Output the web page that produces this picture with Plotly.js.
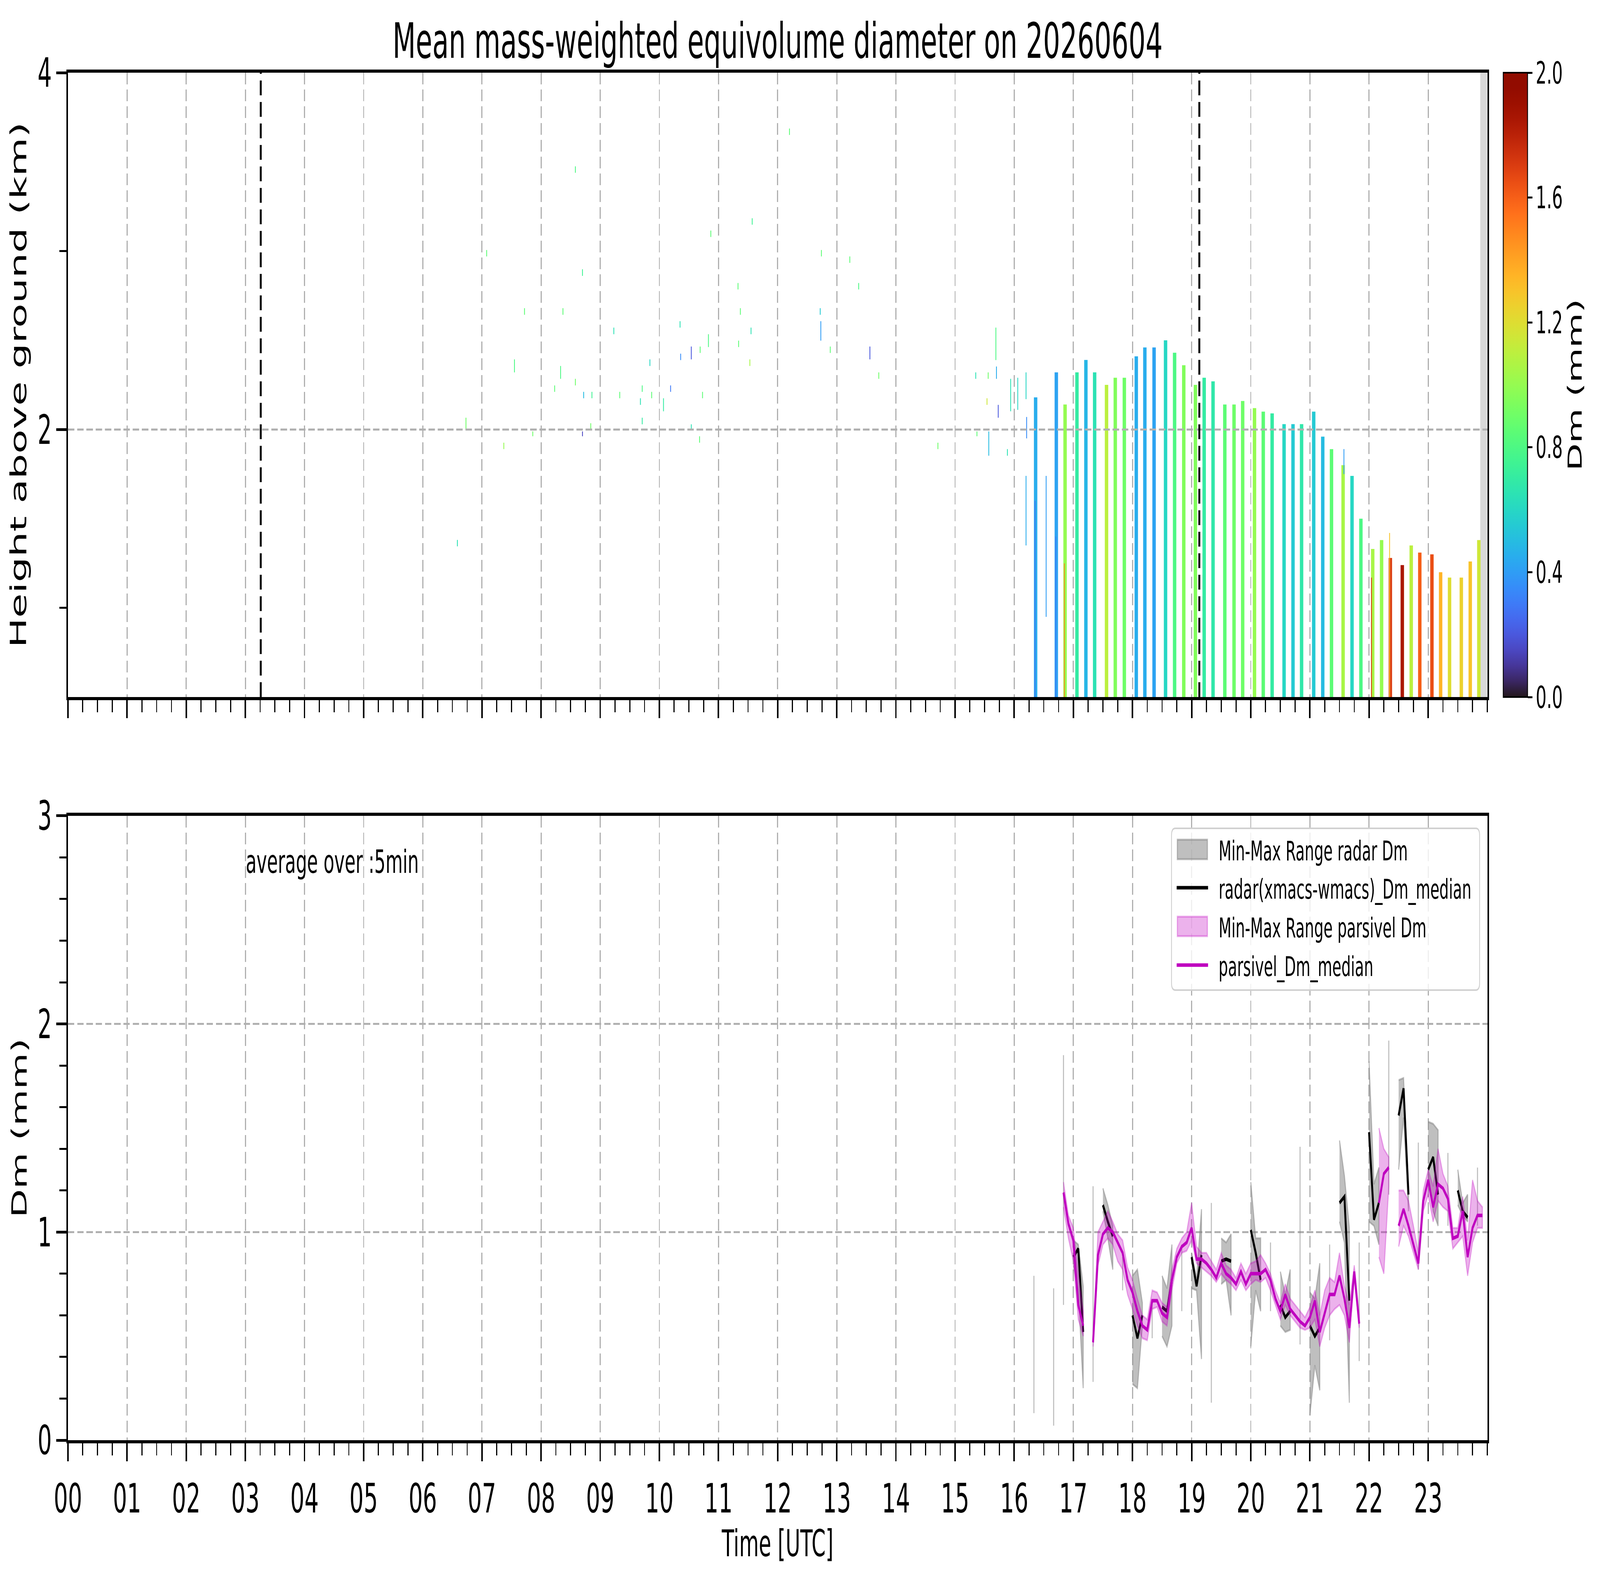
<!DOCTYPE html>
<html>
<head>
<meta charset="utf-8">
<script src="https://cdn.plot.ly/plotly-3.0.1.min.js"></script>
<style>html,body{margin:0;padding:0;background:#fff;overflow:hidden}#chart{transform-origin:0 0}</style>
</head>
<body>
<div id="chart" style="width:7442px;height:4031px"></div>
<script>
// ---- data ----
const hourLabels = ['00','01','02','03','04','05','06','07','08','09','10','11',
  '12','13','14','15','16','17','18','19','20','21','22','23'];

// radar columns (top panel): centre time [h], top height [km], Dm [mm]
const colTime = [16.362, 16.712, 16.860, 17.061, 17.212, 17.360, 17.561, 17.709, 17.862,
  18.064, 18.209, 18.365, 18.559, 18.712, 18.867, 19.064, 19.212, 19.362, 19.561, 19.717, 19.863,
  20.063, 20.211, 20.361, 20.563, 20.714, 20.859, 21.064, 21.217, 21.365, 21.561, 21.712, 21.862,
  22.062, 22.212, 22.360, 22.562, 22.713, 22.858, 23.063, 23.210, 23.361, 23.560, 23.711, 23.856];
const colTop = [2.18, 2.32, 2.14, 2.32, 2.39, 2.32, 2.25, 2.29, 2.29,
  2.41, 2.46, 2.46, 2.50, 2.43, 2.36, 2.25, 2.29, 2.27, 2.14, 2.14, 2.16,
  2.12, 2.10, 2.09, 2.03, 2.03, 2.03, 2.10, 1.96, 1.89, 1.80, 1.74, 1.50,
  1.33, 1.38, 1.28, 1.24, 1.35, 1.31, 1.30, 1.20, 1.17, 1.17, 1.26, 1.38];
const colDm = [0.45, 0.42, 1.0, 0.7, 0.48, 0.65, 1.1, 0.95, 0.9,
  0.45, 0.45, 0.42, 0.6, 0.8, 0.95, 0.95, 0.7, 0.68, 0.85, 0.9, 0.9,
  1.0, 0.85, 0.7, 0.6, 0.55, 0.68, 0.55, 0.5, 0.85, 1.05, 0.6, 0.8,
  1.05, 1.0, 1.7, 1.85, 1.1, 1.6, 1.65, 1.35, 1.2, 1.25, 1.3, 1.15];

// small isolated cells and streaks (top panel)
const cellTime = [6.585, 6.73, 7.08, 7.37, 7.55, 7.72, 7.86, 8.23, 8.33, 8.37, 8.58, 8.58, 8.70, 8.70,
  8.72, 8.84, 8.86, 9.23, 9.33, 9.68, 9.71, 9.71, 9.84, 9.87, 10.07, 10.19, 10.35, 10.36, 10.54,
  10.54, 10.68, 10.69, 10.73, 10.83, 10.87, 11.33, 11.34, 11.37, 11.53, 11.55, 11.57, 12.20, 12.72,
  12.73, 12.74, 12.89, 13.22, 13.37, 13.56, 13.71, 14.71, 15.35, 15.37, 15.54, 15.56, 15.57, 15.69,
  15.70, 15.73, 15.885, 15.94, 16.06, 16.20, 16.21, 16.20, 16.54, 16.352, 16.702, 16.848, 22.041,
  22.347, 21.575];
const cellLow = [1.345, 2.00, 2.97, 1.89, 2.32, 2.643, 1.962, 2.211, 2.284, 2.643, 3.439, 2.247, 2.861, 1.962,
  2.175, 2.00, 2.175, 2.534, 2.175, 2.138, 2.211, 2.029, 2.356, 2.175, 2.102, 2.211, 2.571, 2.389, 2.393,
  2.00, 1.926, 2.429, 2.175, 2.462, 3.079, 2.785, 2.462, 2.643, 2.356, 2.534, 3.148, 3.651, 2.643,
  2.498, 2.97, 2.429, 2.934, 2.785, 2.393, 2.284, 1.89, 2.284, 1.962, 2.138, 2.284, 1.853, 2.389,
  2.284, 2.066, 1.853, 2.102, 2.11, 2.17, 1.95, 1.35, 0.95, 0.5, 0.5, 0.5, 0.5,
  0.5, 1.75];
const cellHigh = [1.381, 2.066, 3.006, 1.926, 2.393, 2.68, 1.989, 2.247, 2.356, 2.68, 3.475, 2.284, 2.898, 1.989,
  2.211, 2.035, 2.211, 2.571, 2.211, 2.175, 2.247, 2.066, 2.393, 2.211, 2.175, 2.247, 2.607, 2.425, 2.465,
  2.029, 1.962, 2.465, 2.211, 2.534, 3.115, 2.821, 2.498, 2.68, 2.393, 2.571, 3.184, 3.687, 2.68,
  2.607, 3.006, 2.465, 2.97, 2.821, 2.465, 2.32, 1.926, 2.32, 1.989, 2.175, 2.32, 1.989, 2.571,
  2.353, 2.138, 1.89, 2.284, 2.29, 2.32, 2.07, 1.74, 1.74, 1.6, 1.4, 1.25, 1.17,
  1.42, 1.89];
const cellDm = [0.65, 0.9, 0.85, 1.0, 0.8, 0.85, 0.9, 0.85, 0.8, 0.85, 0.8, 0.9, 0.75, 0.15,
  0.5, 0.9, 0.75, 0.65, 0.85, 0.65, 0.8, 0.7, 0.6, 0.85, 0.7, 0.3, 0.65, 0.35, 0.2,
  0.65, 0.85, 0.85, 0.85, 0.8, 0.85, 0.85, 0.85, 0.85, 1.05, 0.65, 0.75, 0.85, 0.55,
  0.4, 0.85, 0.85, 0.85, 0.8, 0.2, 0.9, 0.9, 0.65, 0.85, 1.15, 0.9, 0.5, 0.8,
  0.45, 0.2, 0.65, 0.65, 0.6, 0.6, 0.35, 0.45, 0.4, 0.28, 0.3, 1.5, 1.7,
  1.3, 0.4];

const markLines = [3.26, 19.13];   // black dashed markers [h]

// bottom panel: radar Dm (5-min)
const radarTime = ['16:20','16:40','16:50',
  '17:00','17:05','17:10','17:20','17:30','17:35','17:40','17:50',
  '18:00','18:05','18:10','18:20','18:30','18:35','18:40','18:50',
  '19:00','19:05','19:10','19:20','19:30','19:35','19:40',
  '20:00','20:05','20:10','20:20','20:30','20:35','20:40','20:50',
  '21:00','21:05','21:10','21:20','21:30','21:35','21:40','21:50',
  '22:00','22:05','22:10','22:20','22:30','22:35','22:40','22:50',
  '23:00','23:05','23:10','23:20','23:30','23:35','23:40','23:50'];
const radarMed = [0.45, 0.40, 1.20,
  0.88, 0.92, 0.52, 0.75, 1.13, 1.05, 0.98, 0.80,
  0.60, 0.49, 0.60, 0.57, 0.64, 0.62, 0.77, 0.80,
  0.88, 0.74, 0.89, 0.70, 0.86, 0.87, 0.86,
  1.01, 0.90, 0.77, 0.78, 0.65, 0.59, 0.62, 0.90,
  0.55, 0.50, 0.54, 0.70, 1.14, 1.17, 0.67, 0.70,
  1.48, 1.06, 1.14, 1.50, 1.56, 1.69, 1.18, 1.10,
  1.30, 1.36, 1.18, 1.20, 1.20, 1.10, 1.07, 1.15];
const radarMin = [0.13, 0.07, 0.65,
  0.84, 0.72, 0.25, 0.28, 1.10, 0.97, 0.82, 0.72,
  0.27, 0.25, 0.55, 0.49, 0.50, 0.45, 0.55, 0.62,
  0.73, 0.72, 0.39, 0.18, 0.75, 0.77, 0.60,
  0.45, 0.72, 0.62, 0.62, 0.55, 0.52, 0.53, 0.46,
  0.12, 0.36, 0.24, 0.48, 1.05, 0.95, 0.18, 0.38,
  1.05, 1.03, 0.94, 1.18, 1.30, 1.55, 1.10, 0.82,
  1.28, 1.10, 1.03, 1.03, 1.13, 1.08, 1.05, 1.03];
const radarMax = [0.79, 0.73, 1.85,
  0.96, 0.94, 0.74, 1.22, 1.21, 1.13, 1.03, 0.88,
  0.79, 0.82, 0.66, 0.65, 0.79, 0.73, 0.94, 0.94,
  0.90, 0.78, 1.11, 1.14, 0.97, 0.95, 0.99,
  1.24, 0.97, 0.97, 0.95, 0.81, 0.70, 0.82, 1.41,
  0.71, 0.68, 0.85, 0.94, 1.44, 1.27, 1.02, 0.95,
  1.82, 1.23, 1.31, 1.92, 1.73, 1.74, 1.20, 1.43,
  1.53, 1.52, 1.49, 1.38, 1.30, 1.14, 1.18, 1.31];

// bottom panel: parsivel Dm (5-min)
const parsTime = ['16:50','16:55','17:00','17:05','17:10','17:20','17:25','17:30','17:35','17:40','17:45','17:50','17:55',
  '18:00','18:05','18:10','18:15','18:20','18:25','18:30','18:35','18:40','18:45','18:50','18:55',
  '19:00','19:05','19:10','19:15','19:20','19:25','19:30','19:35','19:40','19:45','19:50','19:55',
  '20:00','20:05','20:10','20:15','20:20','20:25','20:30','20:35','20:40','20:45','20:50','20:55',
  '21:00','21:05','21:10','21:15','21:20','21:25','21:30','21:35','21:40','21:45','21:50',
  '22:10','22:15','22:20','22:30','22:35','22:40','22:45','22:50','22:55',
  '23:00','23:05','23:10','23:15','23:20','23:25','23:30','23:35','23:40','23:45','23:50','23:55'];
const parsMed = [1.19, 1.04, 0.96, 0.65, 0.55, 0.47, 0.89, 0.99, 1.02, 1.00, 0.95, 0.90, 0.77,
  0.71, 0.62, 0.55, 0.53, 0.67, 0.67, 0.61, 0.59, 0.77, 0.88, 0.93, 0.95,
  1.02, 0.87, 0.87, 0.85, 0.82, 0.78, 0.85, 0.80, 0.78, 0.75, 0.81, 0.75,
  0.80, 0.80, 0.80, 0.82, 0.77, 0.68, 0.62, 0.70, 0.63, 0.60, 0.57, 0.55,
  0.59, 0.67, 0.52, 0.61, 0.70, 0.70, 0.79, 0.68, 0.54, 0.81, 0.56,
  1.14, 1.28, 1.31, 1.03, 1.11, 1.03, 0.94, 0.85, 1.15,
  1.25, 1.12, 1.23, 1.21, 1.16, 0.97, 0.98, 1.10, 0.88, 1.02, 1.08, 1.08];
const parsMin = [1.12, 0.97, 0.86, 0.58, 0.50, 0.45, 0.84, 0.94, 0.97, 0.94, 0.86, 0.82, 0.70,
  0.63, 0.55, 0.49, 0.48, 0.63, 0.64, 0.57, 0.55, 0.72, 0.85, 0.90, 0.91,
  0.96, 0.85, 0.83, 0.81, 0.79, 0.76, 0.80, 0.77, 0.75, 0.72, 0.77, 0.72,
  0.75, 0.77, 0.76, 0.78, 0.72, 0.65, 0.58, 0.65, 0.60, 0.57, 0.54, 0.53,
  0.54, 0.58, 0.45, 0.54, 0.60, 0.63, 0.65, 0.60, 0.47, 0.78, 0.54,
  0.88, 0.80, 1.22, 0.93, 1.03, 0.98, 0.90, 0.82, 1.10,
  1.18, 1.05, 1.15, 1.12, 1.10, 0.92, 0.95, 0.98, 0.79, 0.95, 1.02, 1.02];
const parsMax = [1.24, 1.08, 1.02, 0.80, 0.62, 0.50, 1.00, 1.05, 1.10, 1.05, 0.99, 0.96, 0.83,
  0.77, 0.68, 0.60, 0.58, 0.72, 0.71, 0.66, 0.64, 0.82, 0.92, 0.97, 1.00,
  1.14, 0.93, 0.90, 0.90, 0.86, 0.82, 0.90, 0.84, 0.82, 0.78, 0.85, 0.80,
  0.85, 0.86, 0.89, 0.85, 0.80, 0.72, 0.66, 0.75, 0.68, 0.65, 0.62, 0.59,
  0.64, 0.72, 0.60, 0.72, 0.78, 0.76, 0.90, 0.74, 0.65, 0.84, 0.60,
  1.50, 1.40, 1.36, 1.20, 1.20, 1.15, 1.03, 0.90, 1.20,
  1.30, 1.22, 1.40, 1.28, 1.22, 1.02, 1.02, 1.17, 0.96, 1.25, 1.15, 1.12];

// ---- helpers ----
function hrs(s) {
  const p = s.split(':');
  return +p[0] + p[1] / 60;
}

// split indices into runs of consecutive 5-min samples
function runs(times) {
  const out = [];
  let cur = [];
  times.forEach((t, i) => {
    if (cur.length && hrs(t) - hrs(times[cur[cur.length - 1]]) > 0.09) {
      out.push(cur);
      cur = [];
    }
    cur.push(i);
  });
  if (cur.length) out.push(cur);
  return out;
}

function lineXY(times, vals) {
  const x = [], y = [];
  runs(times).forEach(r => {
    r.forEach(i => { x.push(hrs(times[i])); y.push(vals[i]); });
    x.push(null); y.push(null);
  });
  return { x, y };
}

function bandXY(times, lo, hi) {
  const x = [], y = [];
  runs(times).forEach(r => {
    r.forEach(i => { x.push(hrs(times[i])); y.push(hi[i]); });
    r.slice().reverse().forEach(i => { x.push(hrs(times[i])); y.push(lo[i]); });
    x.push(null); y.push(null);
  });
  return { x, y };
}

// turbo colormap (polynomial approximation)
function turbo(t) {
  const c = v => Math.max(0, Math.min(255, Math.round(v)));
  const r = 34.61 + t * (1172.33 - t * (10793.56 - t * (33300.12 - t * (38394.49 - t * 14825.05))));
  const g = 23.31 + t * (557.33 + t * (1225.33 - t * (3574.96 - t * (1073.77 + t * 707.56))));
  const b = 27.2 + t * (3211.1 - t * (15327.97 - t * (27814 - t * (22569.18 - t * 6838.66))));
  return 'rgb(' + c(r) + ',' + c(g) + ',' + c(b) + ')';
}
const TURBO = [];
for (let i = 0; i <= 40; i++) TURBO.push([i / 40, turbo(i / 40)]);

const FONT = 'DejaVu Sans, sans-serif';
const GRID = '#b0b0b0';
const GRIDDASH = '30px,13px';

const radarBand = { fill: 'rgba(128,128,128,0.5)', line: 'rgba(128,128,128,0.5)' };
const parsBand = { fill: 'rgba(191,0,191,0.3)', line: 'rgba(191,0,191,0.3)' };

// ---- traces ----
const traces = [];

traces.push({
  type: 'bar', x: colTime, y: colTop, base: 0, width: 0.058,
  xaxis: 'x', yaxis: 'y', opacity: 1, showlegend: false, hoverinfo: 'skip',
  marker: {
    color: colDm, colorscale: TURBO, cmin: 0, cmax: 2, line: { width: 0 },
    showscale: true,
    colorbar: {
      x: (6992 - 316) / 6602, xanchor: 'left', y: 1, yanchor: 'top',
      len: 0.4566, lenmode: 'fraction', thickness: 113, thicknessmode: 'pixels',
      outlinewidth: 4, outlinecolor: 'black', xpad: 0, ypad: 0,
      ticks: 'outside', ticklen: 21, tickwidth: 5, tickcolor: 'black',
      tick0: 0, dtick: 0.4, tickformat: '.1f',
      tickfont: { size: 79, color: 'black', family: FONT },
      title: { text: 'Dm (mm)', side: 'right', font: { size: 92, color: 'black', family: FONT } }
    }
  }
});

traces.push({
  type: 'bar', x: cellTime, base: cellLow, y: cellHigh.map((h, i) => h - cellLow[i]),
  width: 0.014, xaxis: 'x', yaxis: 'y', opacity: 1, showlegend: false, hoverinfo: 'skip',
  marker: { color: cellDm, colorscale: TURBO, cmin: 0, cmax: 2, line: { width: 0 }, showscale: false }
});

const rb = bandXY(radarTime, radarMin, radarMax);
traces.push({
  x: rb.x, y: rb.y, xaxis: 'x2', yaxis: 'y2', type: 'scatter', mode: 'lines',
  fill: 'toself', fillcolor: radarBand.fill, line: { color: radarBand.line, width: 5 },
  name: 'Min-Max Range radar Dm', showlegend: false, hoverinfo: 'skip'
});
const rl = lineXY(radarTime, radarMed);
traces.push({
  x: rl.x, y: rl.y, xaxis: 'x2', yaxis: 'y2', type: 'scatter', mode: 'lines',
  line: { color: 'black', width: 9 },
  name: 'radar(xmacs-wmacs)_Dm_median', showlegend: false
});
const pb = bandXY(parsTime, parsMin, parsMax);
traces.push({
  x: pb.x, y: pb.y, xaxis: 'x2', yaxis: 'y2', type: 'scatter', mode: 'lines',
  fill: 'toself', fillcolor: parsBand.fill, line: { color: parsBand.line, width: 5 },
  name: 'Min-Max Range parsivel Dm', showlegend: false, hoverinfo: 'skip'
});
const pl = lineXY(parsTime, parsMed);
traces.push({
  x: pl.x, y: pl.y, xaxis: 'x2', yaxis: 'y2', type: 'scatter', mode: 'lines',
  line: { color: '#bf00bf', width: 9 },
  name: 'parsivel_Dm_median', showlegend: false
});

// ---- hand-made legend (matplotlib style: patches for bands, lines for medians) ----
const PW = 6602, PH = 3500;                // plot-area size in px
const pxX = X => (X - 316) / PW;           // figure px -> paper x
const pxY = Y => (3686 - Y) / PH;          // figure px -> paper y
const legendShapes = [];
const legendNotes = [];
(function buildLegend() {
  const bx0 = pxX(5449), bx1 = pxX(6882), by0 = pxY(2534), by1 = pxY(2120);
  const rx = 18 / PW, ry = 18 / PH;
  legendShapes.push({
    type: 'path', xref: 'paper', yref: 'paper', layer: 'above',
    path: `M${bx0 + rx},${by1} L${bx1 - rx},${by1} Q${bx1},${by1} ${bx1},${by1 - ry} ` +
          `L${bx1},${by0 + ry} Q${bx1},${by0} ${bx1 - rx},${by0} L${bx0 + rx},${by0} ` +
          `Q${bx0},${by0} ${bx0},${by0 + ry} L${bx0},${by1 - ry} Q${bx0},${by1} ${bx0 + rx},${by1} Z`,
    fillcolor: 'rgba(255,255,255,0.8)', line: { color: '#d0d0d0', width: 4 }
  });
  const rowY = [2174, 2272, 2371, 2470];
  const items = [
    { tr: traces[2], patch: radarBand },
    { tr: traces[3] },
    { tr: traces[4], patch: parsBand },
    { tr: traces[5] }
  ];
  items.forEach((it, i) => {
    const yc = rowY[i];
    if (it.patch) {
      legendShapes.push({
        type: 'rect', xref: 'paper', yref: 'paper', layer: 'above',
        x0: pxX(5476), x1: pxX(5616), y0: pxY(yc + 25), y1: pxY(yc - 25),
        fillcolor: it.patch.fill, line: { color: it.patch.line, width: 5 }
      });
    } else {
      legendShapes.push({
        type: 'line', xref: 'paper', yref: 'paper', layer: 'above',
        x0: pxX(5473), x1: pxX(5619), y0: pxY(yc), y1: pxY(yc),
        line: { color: it.tr.line.color, width: it.tr.line.width }
      });
    }
    legendNotes.push({
      text: it.tr.name, xref: 'paper', yref: 'paper', x: pxX(5666), y: pxY(yc + 4),
      xanchor: 'left', yanchor: 'middle', showarrow: false,
      font: { size: 69, color: 'black', family: FONT }
    });
  });
})();

// ---- axes ----
const axisBase = {
  showline: true, linecolor: 'black', linewidth: 8, mirror: true,
  ticks: 'outside', ticklen: 46, tickwidth: 7, tickcolor: 'black',
  showgrid: true, gridcolor: GRID, gridwidth: 5, griddash: GRIDDASH,
  zeroline: false, automargin: false,
  tickfont: { size: 104, color: 'black', family: FONT }
};
const minorTicks = { ticks: 'outside', ticklen: 31, tickwidth: 5, tickcolor: 'black', showgrid: false };
const hourVals = hourLabels.map(Number);
const xMinor = Object.assign({ tickmode: 'linear', tick0: 0, dtick: 0.25 }, minorTicks);

const layout = {
  width: 7442, height: 4031, autosize: false,
  margin: { l: 316, r: 524, t: 186, b: 345, pad: 0 },
  paper_bgcolor: 'white', plot_bgcolor: 'white',
  font: { family: FONT, color: 'black' },
  barmode: 'overlay',
  showlegend: false,
  title: {
    text: 'Mean mass-weighted equivolume diameter on 20260604',
    font: { size: 125, color: 'black', family: FONT },
    x: 0.5, xref: 'paper', xanchor: 'center',
    y: 1 - 104 / 4031, yref: 'container', yanchor: 'middle'
  },
  xaxis: Object.assign({}, axisBase, {
    domain: [0, 1], range: [0, 24], anchor: 'y',
    tickmode: 'array', tickvals: hourVals, ticktext: hourLabels,
    showticklabels: false, minor: xMinor
  }),
  yaxis: Object.assign({}, axisBase, {
    domain: [0.5434, 1], range: [0.5, 4], anchor: 'x',
    tickmode: 'array', tickvals: [2, 4],
    minor: Object.assign({ tickmode: 'array', tickvals: [1, 3] }, minorTicks),
    title: { text: 'Height above ground (km)', font: { size: 102, color: 'black', family: FONT }, standoff: 22 }
  }),
  xaxis2: Object.assign({}, axisBase, {
    domain: [0, 1], range: [0, 24], anchor: 'y2',
    tickmode: 'array', tickvals: hourVals, ticktext: hourLabels,
    ticklabelstandoff: 6,
    minor: xMinor,
    title: { text: 'Time [UTC]', font: { size: 94, color: 'black', family: FONT }, standoff: 4 }
  }),
  yaxis2: Object.assign({}, axisBase, {
    domain: [0, 0.4566], range: [0, 3], anchor: 'x2',
    tickmode: 'array', tickvals: [0, 1, 2, 3],
    minor: Object.assign({ tickmode: 'linear', tick0: 0, dtick: 0.2 }, minorTicks),
    title: { text: 'Dm (mm)', font: { size: 96, color: 'black', family: FONT }, standoff: 22 }
  }),
  annotations: [{
    text: 'average over :5min', xref: 'x2', yref: 'y2', x: 3.0, y: 2.78,
    xanchor: 'left', yanchor: 'middle', showarrow: false,
    font: { size: 82, color: 'black', family: FONT }
  }].concat(legendNotes),
  shapes: [
    { type: 'rect', xref: 'x', yref: 'y domain', x0: 23.88, x1: 24, y0: 0, y1: 1,
      fillcolor: '#d9d9d9', line: { width: 0 }, layer: 'below' },
    { type: 'line', xref: 'x domain', yref: 'y', x0: 0, x1: 1, y0: 2, y1: 2,
      line: { color: GRID, width: 5, dash: GRIDDASH }, layer: 'above' }
  ].concat(markLines.map(h => ({
    type: 'line', xref: 'x', yref: 'y domain', x0: h, x1: h, y0: 0, y1: 1,
    line: { color: 'black', width: 9, dash: '38px,17px' }, layer: 'above'
  }))).concat(legendShapes)
};

// the figure is laid out at 7442 x 4031; if the window is smaller, squeeze it to fit
const el = document.getElementById('chart');
Plotly.newPlot(el, traces, layout, { displayModeBar: false, staticPlot: true }).then(() => {
  const W = window.innerWidth || 7442, H = window.innerHeight || 4031;
  if (W !== 7442 || H !== 4031) {
    el.style.transform = 'scale(' + (W / 7442) + ',' + (H / 4031) + ')';
  }
});
</script>
</body>
</html>
